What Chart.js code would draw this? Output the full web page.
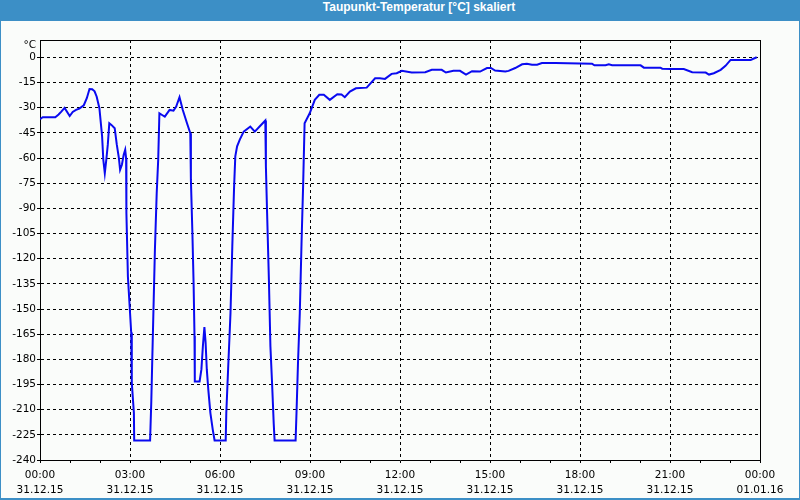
<!DOCTYPE html>
<html>
<head>
<meta charset="utf-8">
<script src="https://cdn.jsdelivr.net/npm/chart.js@4.4.0/dist/chart.umd.min.js"></script>
<style>
  body { margin: 0; }
  #rahmen { position: relative; width: 800px; height: 500px; background: #3c8fc6; }
  #titel { position: absolute; left: 38px; top: 0; width: 762px; height: 21px; line-height: 21px;
           text-align: center; color: #fff; font: bold 12px "Liberation Sans", sans-serif; }
  #flaeche { position: absolute; left: 1px; top: 21px; width: 798px; height: 477px; background: #fafcfa; }
  #grafico { position: absolute; left: 0; top: 0; }
</style>
</head>
<body>
<div id="rahmen">
  <div id="titel">Taupunkt-Temperatur [°C] skaliert</div>
  <div id="flaeche"></div>
  <canvas id="grafico" width="800" height="500"></canvas>
</div>
<script>
// Zeit in Stunden ab 31.12.15 00:00
const stunden = [0.00,0.09,0.51,0.62,0.71,0.82,0.99,1.09,1.20,1.31,1.46,1.56,1.65,1.74,1.82,1.89,1.98,2.07,2.11,2.16,
  2.21,2.26,2.31,2.38,2.49,2.56,2.63,2.67,2.73,2.79,2.84,2.87,2.88,2.93,3.04,3.06,3.13,3.14,3.67,3.71,3.74,
  3.78,3.83,3.89,3.94,3.98,4.07,4.16,4.32,4.45,4.54,4.65,4.76,4.90,5.01,5.03,5.08,5.12,5.15,5.16,5.32,
  5.38,5.43,5.48,5.52,5.56,5.61,5.68,5.76,5.82,6.19,6.21,6.27,6.35,6.41,6.47,6.51,6.57,6.66,6.79,7.01,
  7.16,7.32,7.51,7.53,7.57,7.63,7.68,7.74,7.79,7.82,8.52,8.55,8.60,8.66,8.72,8.77,8.82,8.99,9.16,9.31,
  9.46,9.66,9.91,10.05,10.16,10.33,10.53,10.89,11.17,11.33,11.50,11.72,11.89,12.06,12.39,12.84,13.06,13.39,13.53,13.78,
  14.00,14.20,14.40,14.67,14.90,15.03,15.17,15.51,15.62,15.84,16.07,16.23,16.40,16.57,16.73,17.18,18.40,18.48,18.85,18.96,19.07,
  20.02,20.13,20.68,20.74,21.02,21.46,21.74,22.19,22.30,22.46,22.69,22.85,23.02,23.69,23.89];

const werte = [-36.8,-35.6,-35.6,-34,-32.3,-30.1,-34.9,-32.5,-31.3,-30.5,-28.5,-24.3,-18.8,-19,-20.2,-23.4,-30.3,-47,-61,-69,
  -61,-52,-39.2,-40.2,-42.2,-52,-60,-67,-64,-58,-55,-60,-92.7,-130.6,-164,-194,-212,-228.3,-228.3,-205,-182,
  -152,-115,-81,-61,-33.3,-34.3,-35.3,-31.3,-31.7,-29.3,-23.7,-31.3,-39.2,-45.2,-73,-104.8,-134.6,-166,-193.2,-193.2,
  -186,-172,-160.8,-170,-186,-198,-212,-222,-228.3,-228.3,-212,-186,-152.4,-112.8,-77,-59,-53,-49,-44.2,-41.2,
  -44.2,-41.2,-37.6,-65,-92.8,-132.6,-172,-196,-218,-228.3,-228.3,-212,-182,-152.4,-108.8,-77,-39.2,-33.3,-25.3,-22.3,
  -22.3,-25.3,-21.9,-22.1,-23.7,-20.4,-18.4,-18,-12.4,-12.4,-12.8,-9.8,-9.4,-8,-9,-8.8,-7.4,-7.4,-9,-8,
  -8,-10.2,-8.2,-8.4,-6.3,-6.3,-7.8,-8.4,-8,-6.3,-4.1,-3.7,-4.3,-4.3,-3.3,-3.3,-3.7,-4.7,-4.7,-4.1,-4.7,
  -4.7,-6.1,-6.1,-6.7,-6.9,-6.9,-8.8,-9,-10.2,-9.4,-7.4,-5,-1.5,-1.5,0.1];

const yTicks = [0,-15,-30,-45,-60,-75,-90,-105,-120,-135,-150,-165,-180,-195,-210,-225,-240];
const xStunden = [0,1,2,3,4,5,6,7,8,9,10,11,12,13,14,15,16,17,18,19,20,21,22,23,24];
const xUhrzeit = ["00:00","03:00","06:00","09:00","12:00","15:00","18:00","21:00","00:00"];
const xDatum = ["31.12.15","31.12.15","31.12.15","31.12.15","31.12.15","31.12.15","31.12.15","31.12.15","01.01.16"];
const einheit = "°C";

Chart.defaults.font.family = "DejaVu Sans";
Chart.defaults.font.size = 10.5;
Chart.defaults.color = "#000";

// Rahmen oben/rechts und Einheit über der y-Achse
const rahmenPlugin = {
  id: "rahmen",
  afterDraw(chart) {
    const {ctx, chartArea: a} = chart;
    ctx.save();
    ctx.strokeStyle = "#000";
    ctx.lineWidth = 1;
    ctx.beginPath();
    ctx.moveTo(a.left, a.top + 0.5);
    ctx.lineTo(a.right + 0.5, a.top + 0.5);
    ctx.lineTo(a.right + 0.5, a.bottom);
    ctx.stroke();
    ctx.font = "10.5px 'DejaVu Sans'";
    ctx.fillStyle = "#000";
    ctx.textAlign = "right";
    ctx.textBaseline = "middle";
    ctx.fillText(einheit, 36, 45);
    ctx.restore();
  }
};

new Chart("grafico", {
  type: "line",
  data: {
    datasets: [{
      data: stunden.map((h, i) => ({x: h, y: werte[i]})),
      borderColor: "#0a0af0",
      borderWidth: 2,
      pointRadius: 0,
      tension: 0,
      fill: false
    }]
  },
  options: {
    responsive: false,
    animation: false,
    layout: { padding: { top: 40, right: 40, left: 0, bottom: 0 } },
    plugins: { legend: { display: false }, tooltip: { enabled: false } },
    scales: {
      x: {
        type: "linear",
        min: 0,
        max: 24,
        afterBuildTicks: (s) => { s.ticks = xStunden.map(v => ({value: v})); },
        afterFit: (s) => { s.height = 40; },
        ticks: {
          autoSkip: false,
          maxRotation: 0,
          padding: 4.5,
          font: { lineHeight: 1.43 },
          callback: (v) => v % 3 === 0 ? [xUhrzeit[v / 3], xDatum[v / 3]] : ""
        },
        grid: {
          color: (c) => c.tick && c.tick.value % 3 === 0 ? "#000" : "rgba(0,0,0,0)",
          tickColor: "#000",
          tickLength: 3,
          lineWidth: 1
        },
        border: { color: "#000", width: 1, dash: [3, 3] }
      },
      y: {
        min: -240,
        max: 10.4,
        afterBuildTicks: (s) => { s.ticks = yTicks.map(v => ({value: v})); },
        afterFit: (s) => { s.width = 40; },
        ticks: { padding: 1 },
        grid: {
          color: "#000",
          tickColor: "#000",
          tickLength: 3,
          lineWidth: 1
        },
        border: { color: "#000", width: 1, dash: [3, 3] }
      }
    }
  },
  plugins: [rahmenPlugin]
});
</script>
</body>
</html>
